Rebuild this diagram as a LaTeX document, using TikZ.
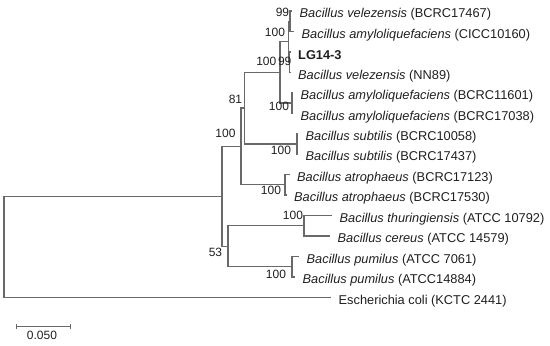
\documentclass[tikz,border=0pt]{standalone}
\usepackage{fontspec}
\setmainfont{Liberation Sans}
\usetikzlibrary{arrows.meta}
\definecolor{treeLine}{RGB}{105,105,105}
\colorlet{ink}{black!88}
\tikzset{
  branch/.style={draw=treeLine, line width=1.3pt},
  taxon/.style={
    anchor=west,
    inner sep=0pt,
    xshift=7.5pt,
    yshift=-3.5pt,
    text=ink,
    font=\fontsize{12.8}{14}\selectfont
  },
  boot/.style={
    inner sep=0pt,
    text=ink,
    font=\fontsize{12}{13}\selectfont
  }
}

\begin{document}
\begin{tikzpicture}[x=1pt,y=-1pt]
  \useasboundingbox (0,0) rectangle (550,346);

  % leaf tips
  \coordinate (t1) at (292,11);
  \coordinate (t2) at (294,31.45);
  \coordinate (t3) at (290.5,51.9);
  \coordinate (t4) at (290.5,72.35);
  \coordinate (t5) at (293,92.8);
  \coordinate (t6) at (293,113.25);
  \coordinate (t7) at (298,133.7);
  \coordinate (t8) at (298,154.15);
  \coordinate (t9) at (289.5,174.6);
  \coordinate (t10) at (286.5,195.05);
  \coordinate (t11) at (332,215.5);
  \coordinate (t12) at (330,235.95);
  \coordinate (t13) at (299,256.4);
  \coordinate (t14) at (295,276.85);
  \coordinate (t15) at (331,297.3);

  % internal nodes
  \coordinate (nVel) at (290,21.2);
  \coordinate (nLG) at (289.5,62.1);
  \coordinate (nVelGrp) at (288.5,41.65);
  \coordinate (nAmy) at (292,103.0);
  \coordinate (nAmyGrp) at (280,72.3);
  \coordinate (nSub) at (297,143.9);
  \coordinate (nSubGrp) at (244.5,108.1);
  \coordinate (nAtr) at (285,184.8);
  \coordinate (nAtrGrp) at (241,146.5);
  \coordinate (nCer) at (304,225.7);
  \coordinate (nPum) at (292,266.6);
  \coordinate (nCerGrp) at (228,246.2);
  \coordinate (nBac) at (222,196.3);
  \coordinate (nRoot) at (4,246.8);

  \draw[branch] (nRoot) |- (nBac);
  \draw[branch] (nRoot) |- (t15);
  \draw[branch] (nBac) |- (nAtrGrp);
  \draw[branch] (nBac) |- (nCerGrp);
  \draw[branch] (nAtrGrp) |- (nSubGrp);
  \draw[branch] (nAtrGrp) |- (nAtr);
  \draw[branch] (nSubGrp) |- (nAmyGrp);
  \draw[branch] (nSubGrp) |- (nSub);
  \draw[branch] (nAmyGrp) |- (nVelGrp);
  \draw[branch] (nAmyGrp) |- (nAmy);
  \draw[branch] (nVelGrp) |- (nVel);
  \draw[branch] (nVelGrp) |- (nLG);
  \draw[branch] (nVel) |- (t1);
  \draw[branch] (nVel) |- (t2);
  \draw[branch] (nLG) |- (t3);
  \draw[branch] (nLG) |- (t4);
  \draw[branch] (nAmy) |- (t5);
  \draw[branch] (nAmy) |- (t6);
  \draw[branch] (nSub) |- (t7);
  \draw[branch] (nSub) |- (t8);
  \draw[branch] (nAtr) |- (t9);
  \draw[branch] (nAtr) |- (t10);
  \draw[branch] (nCerGrp) |- (nCer);
  \draw[branch] (nCerGrp) |- (nPum);
  \draw[branch] (nCer) |- (t11);
  \draw[branch] (nCer) |- (t12);
  \draw[branch] (nPum) |- (t13);
  \draw[branch] (nPum) |- (t14);

  % taxa
  \node[taxon] (l1) at (t1) {\textit{Bacillus velezensis} (BCRC17467)};
  \node[taxon] (l2) at (t2) {\textit{Bacillus amyloliquefaciens} (CICC10160)};
  \node[taxon] (l3) at (t3) {\textbf{LG14-3}};
  \node[taxon] (l4) at (t4) {\textit{Bacillus velezensis} (NN89)};
  \node[taxon] (l5) at (t5) {\textit{Bacillus amyloliquefaciens} (BCRC11601)};
  \node[taxon] (l6) at (t6) {\textit{Bacillus amyloliquefaciens} (BCRC17038)};
  \node[taxon] (l7) at (t7) {\textit{Bacillus subtilis} (BCRC10058)};
  \node[taxon] (l8) at (t8) {\textit{Bacillus subtilis} (BCRC17437)};
  \node[taxon] (l9) at (t9) {\textit{Bacillus atrophaeus} (BCRC17123)};
  \node[taxon] (l10) at (t10) {\textit{Bacillus atrophaeus} (BCRC17530)};
  \node[taxon] (l11) at (t11) {\textit{Bacillus thuringiensis} (ATCC 10792)};
  \node[taxon] (l12) at (t12) {\textit{Bacillus cereus} (ATCC 14579)};
  \node[taxon] (l13) at (t13) {\textit{Bacillus pumilus} (ATCC 7061)};
  \node[taxon] (l14) at (t14) {\textit{Bacillus pumilus} (ATCC14884)};
  \node[taxon] (l15) at (t15) {Escherichia coli (KCTC 2441)};

  % bootstrap values
  \node[boot] (bVel) at (282.5,12.7) {99};
  \node[boot] (bVelGrp) at (275,32) {100};
  \node[boot] (bAmyGrp) at (266.3,61.5) {100};
  \node[boot] (bLG) at (284.7,61.5) {99};
  \node[boot] (bSubGrp) at (235.5,99) {81};
  \node[boot] (bAmy) at (279,106) {100};
  \node[boot] (bAtrGrp) at (225.5,133) {100};
  \node[boot] (bSub) at (281,150) {100};
  \node[boot] (bAtr) at (271,190.7) {100};
  \node[boot] (bCer) at (293,215) {100};
  \node[boot] (bCerGrp) at (215.5,252.7) {53};
  \node[boot] (bPum) at (276,274.3) {100};

  % scale bar
  \coordinate (sbL) at (15.5,326.5);
  \coordinate (sbR) at (71,326.5);
  \draw[branch, {Bar[width=5pt]}-{Bar[width=5pt]}] (sbL) -- (sbR);
  \node[boot] (sbText) at (42,335.5) {0.050};
\end{tikzpicture}
\end{document}
